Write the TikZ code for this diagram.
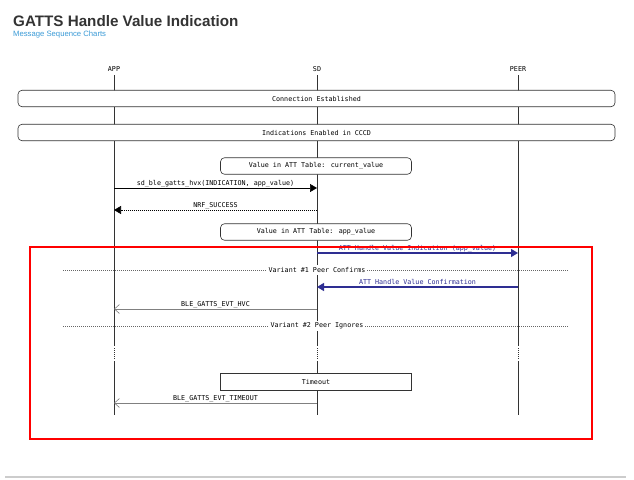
\documentclass[tikz,border=0pt]{standalone}
\usepackage{fontspec}
\setmainfont{Liberation Sans}
\newfontfamily\mscfont{DejaVu Sans Mono}
\usetikzlibrary{arrows.meta}
\definecolor{ttl}{HTML}{333333}
\definecolor{lnk}{HTML}{3A9AD6}
\definecolor{msgblue}{HTML}{2E2E92}
\definecolor{hvcgray}{HTML}{808080}
\definecolor{lifec}{HTML}{333333}
\begin{document}
\begin{tikzpicture}[x=1pt,y=-1pt,
  txt/.style={font=\mscfont\fontsize{6.7}{8}\selectfont, text=black, inner sep=1pt},
  bar/.style={draw=lifec, fill=white, rounded corners=4pt, line width=0.6pt,
              minimum height=16.5pt, inner sep=0pt, txt},
  sqbox/.style={draw=lifec, fill=white, line width=0.6pt,
              minimum height=17pt, minimum width=191pt, inner sep=0pt, txt},
  life/.style={draw=lifec, line width=0.6pt},
  lifedot/.style={draw=lifec, line width=0.6pt, dash pattern=on 1pt off 1pt},
  lbl/.style={txt, anchor=base, midway, yshift=2.6pt, inner sep=0pt},
  msg/.style={draw=black, line width=0.6pt, -{Triangle[length=7pt,width=8pt]}},
  retmsg/.style={draw=black, line width=0.6pt, dash pattern=on 1pt off 1pt,
                 -{Triangle[length=7pt,width=8pt]}},
  bluemsg/.style={draw=msgblue, line width=1.3pt,
                  -{Triangle[length=7pt,width=8pt]}},
  evt/.style={draw=hvcgray, line width=1pt,
              -{Straight Barb[length=5pt,width=9pt,line width=0.6pt]}},
  divider/.style={draw=black!60, line width=0.6pt, dash pattern=on 1pt off 1pt},
  divlbl/.style={txt, fill=white, inner sep=2pt}
]
\useasboundingbox (0,0) rectangle (634,479);

% title
\node[anchor=base west, inner sep=0pt, text=ttl,
      font=\fontsize{15.2}{18}\selectfont\bfseries] (title) at (13,26)
      {GATTS Handle Value Indication};
\node[anchor=base west, inner sep=0pt, text=lnk,
      font=\fontsize{7.7}{9}\selectfont] (subtitle) at (13,36.7)
      {Message Sequence Charts};

% lifeline heads
\node[txt] (app) at (114,69) {APP};
\node[txt] (sd) at (317,69) {SD};
\node[txt] (peer) at (518,69) {PEER};

% lifelines
\foreach \l in {app,sd,peer}{
  \draw[life] (\l |- 0,75) -- (\l |- 0,346);
  \draw[lifedot] (\l |- 0,348) -- (\l |- 0,360);
  \draw[life] (\l |- 0,361) -- (\l |- 0,415);
}

% bars
\node[bar, minimum width=597pt] (conn) at (316.5,98.5) {Connection Established};
\node[bar, minimum width=597pt] (ind) at (316.5,132.5) {Indications Enabled in CCCD};
\node[bar, minimum width=191pt] (cur) at (316,166) {Value in ATT Table: current\_value};
\node[bar, minimum width=191pt] (appv) at (316,232) {Value in ATT Table: app\_value};

% messages
\draw[msg] (app |- 0,188) -- node[lbl] {sd\_ble\_gatts\_hvx(INDICATION, app\_value)} (sd |- 0,188);
\draw[retmsg] (sd |- 0,210) -- node[lbl] {NRF\_SUCCESS} (app |- 0,210);
\draw[bluemsg] (sd |- 0,253) -- node[lbl, text=msgblue] {\underline{ATT Handle Value Indication (app\_value)}} (peer |- 0,253);

% variant 1
\coordinate (d1l) at (63,270);
\coordinate (d1r) at (568,270);
\draw[divider] (d1l) -- (d1r);
\node[divlbl] (v1) at (sd |- 0,270) {Variant \#1 Peer Confirms};

\draw[bluemsg] (peer |- 0,287) -- node[lbl, text=msgblue] {\underline{ATT Handle Value Confirmation}} (sd |- 0,287);
\draw[evt] (sd |- 0,309) -- node[lbl] {BLE\_GATTS\_EVT\_HVC} (app |- 0,309);

% variant 2
\coordinate (d2l) at (63,326);
\coordinate (d2r) at (568,326);
\draw[divider] (d2l) -- (d2r);
\node[divlbl] (v2) at (sd |- 0,326) {Variant \#2 Peer Ignores};

\node[sqbox] (tmo) at (316,381.5) {Timeout};
\draw[evt] (sd |- 0,403) -- node[lbl] {BLE\_GATTS\_EVT\_TIMEOUT} (app |- 0,403);

% highlight
\draw[red, line width=2pt] (30,247) rectangle (592,439);

% bottom rule
\draw[black!20, line width=1.5pt] (5,477) -- (626,477);
\end{tikzpicture}
\end{document}
